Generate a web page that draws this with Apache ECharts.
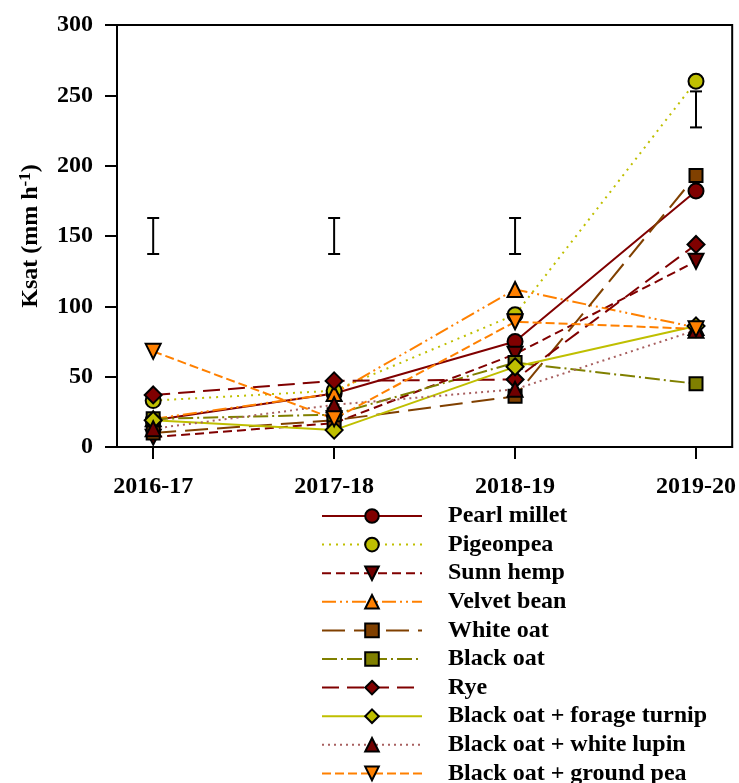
<!DOCTYPE html>
<html>
<head>
<meta charset="utf-8">
<script src="https://cdn.jsdelivr.net/npm/echarts@6/dist/echarts.min.js"></script>
<style>
  html, body { margin: 0; padding: 0; background: #ffffff; }
  #chart { width: 739px; height: 783px; }
</style>
</head>
<body>
<div id="chart"></div>
<script>
// Seasons along the x axis
const seasons = ['2016-17', '2017-18', '2018-19', '2019-20'];

// Saturated hydraulic conductivity (mm h-1) per cover crop and season
const pearlMillet   = [19, 38, 75, 182];
const pigeonpea     = [33, 40, 94, 260];
const sunnHemp      = [7, 17, 66, 132];
const velvetBean    = [20, 38, 112, 85];
const whiteOat      = [10, 19, 36, 193];
const blackOat      = [20, 23, 60, 45];
const rye           = [37, 47, 48, 144];
const oatTurnip     = [19, 12, 57, 86];
const oatLupin      = [13, 30, 41, 83];
const oatGroundPea  = [68, 20, 89, 84];

// LSD bars per season: centre and half-length
const lsdCentre = [150, 150, 150, 240];
const lsdHalf   = [12.8, 12.8, 12.8, 12.8];

// Y axis ticks
const yMin = 0, yMax = 300, yStep = 50;

const FONT = 'Liberation Serif';
const FS = 24;
const DARKRED = '#800000';
const YGREEN = '#BFBF00';
const ORANGE = '#FF8000';
const BROWN = '#804000';
const OLIVE = '#808000';
const LUPIN = '#A86060';

function line(name, values, color, dash, symbol, fill, size, rotate, width) {
  return {
    name: name,
    type: 'line',
    data: values.map((v, i) => [i, v]),
    symbol: symbol,
    symbolSize: size,
    symbolRotate: rotate || 0,
    lineStyle: { color: color, width: width || 2, type: dash },
    itemStyle: { color: fill, borderColor: '#000', borderWidth: 2 },
    emphasis: { disabled: true },
    animation: false,
    z: 3
  };
}

const series = [
  line('Pearl millet', pearlMillet, DARKRED, 'solid', 'circle', DARKRED, 15),
  line('Pigeonpea', pigeonpea, YGREEN, [2, 5], 'circle', YGREEN, 15),
  line('Sunn hemp', sunnHemp, DARKRED, [9, 5], 'triangle', '#700000', 15, 180),
  line('Velvet bean', velvetBean, ORANGE, [14, 4, 2, 4, 2, 4], 'triangle', ORANGE, 15),
  line('White oat', whiteOat, BROWN, [23, 9], 'rect', BROWN, 13),
  line('Black oat', blackOat, OLIVE, [15, 4, 2, 4], 'rect', OLIVE, 13),
  line('Rye', rye, DARKRED, [17, 8], 'diamond', DARKRED, 17),
  line('Black oat + forage turnip', oatTurnip, YGREEN, 'solid', 'diamond', YGREEN, 17),
  line('Black oat + white lupin', oatLupin, LUPIN, [2, 4], 'triangle', '#700000', 15),
  line('Black oat + ground pea', oatGroundPea, ORANGE, [9, 4], 'triangle', ORANGE, 15, 180)
];

// LSD bars drawn as I-beams
series.push({
  name: 'LSD',
  type: 'custom',
  data: lsdCentre.map((c, i) => [i, c - lsdHalf[i], c + lsdHalf[i]]),
  renderItem: function (params, api) {
    const x = api.value(0);
    const lo = api.coord([x, api.value(1)]);
    const hi = api.coord([x, api.value(2)]);
    const cap = 6;
    const st = { stroke: '#000', lineWidth: 2 };
    return {
      type: 'group',
      children: [
        { type: 'line', shape: { x1: lo[0], y1: lo[1], x2: hi[0], y2: hi[1] }, style: st },
        { type: 'line', shape: { x1: lo[0] - cap, y1: lo[1], x2: lo[0] + cap, y2: lo[1] }, style: st },
        { type: 'line', shape: { x1: hi[0] - cap, y1: hi[1], x2: hi[0] + cap, y2: hi[1] }, style: st }
      ]
    };
  },
  animation: false,
  silent: true,
  z: 2
});

const chart = echarts.init(document.getElementById('chart'), null, { renderer: 'canvas' });

chart.setOption({
  backgroundColor: '#ffffff',
  animation: false,
  grid: {
    left: 117, right: 6, top: 25, bottom: 336,
    show: true, borderColor: '#000', borderWidth: 2, backgroundColor: 'transparent'
  },
  legend: {
    data: series.slice(0, 10).map(s => s.name),
    orient: 'vertical',
    left: 321,
    top: 504,
    height: 300,
    padding: 0,
    itemWidth: 100,
    itemHeight: 17,
    itemGap: 4.6,
    selectedMode: false,
    textStyle: {
      fontFamily: FONT, fontWeight: 'bold', fontSize: FS, color: '#000',
      padding: [0, 0, 0, 21]
    }
  },
  xAxis: {
    type: 'value',
    min: -0.2,
    max: 3.2,
    splitLine: { show: false },
    axisLine: { show: true, onZero: false, lineStyle: { color: '#000', width: 2 } },
    axisTick: {
      show: true, length: 12, inside: false,
      customValues: seasons.map((s, i) => i),
      lineStyle: { color: '#000', width: 2 }
    },
    axisLabel: {
      customValues: seasons.map((s, i) => i),
      formatter: v => seasons[Math.round(v)],
      margin: 28,
      fontFamily: FONT, fontWeight: 'bold', fontSize: FS, color: '#000'
    }
  },
  yAxis: {
    type: 'value',
    min: yMin,
    max: yMax,
    interval: yStep,
    splitLine: { show: false },
    axisLine: { show: true, onZero: false, lineStyle: { color: '#000', width: 2 } },
    axisTick: { show: true, length: 12, inside: false, lineStyle: { color: '#000', width: 2 } },
    axisLabel: {
      margin: 24,
      fontFamily: FONT, fontWeight: 'bold', fontSize: FS, color: '#000'
    },
    name: 'Ksat (mm h{sup|-1})',
    nameLocation: 'middle',
    nameRotate: 90,
    nameGap: 73,
    nameTextStyle: {
      fontFamily: FONT, fontWeight: 'bold', fontSize: FS, color: '#000',
      rich: {
        sup: { fontFamily: FONT, fontWeight: 'bold', fontSize: 17, color: '#000', verticalAlign: 'top', padding: [0, 0, 10, 0] }
      }
    }
  },
  series: series
});
</script>
</body>
</html>
